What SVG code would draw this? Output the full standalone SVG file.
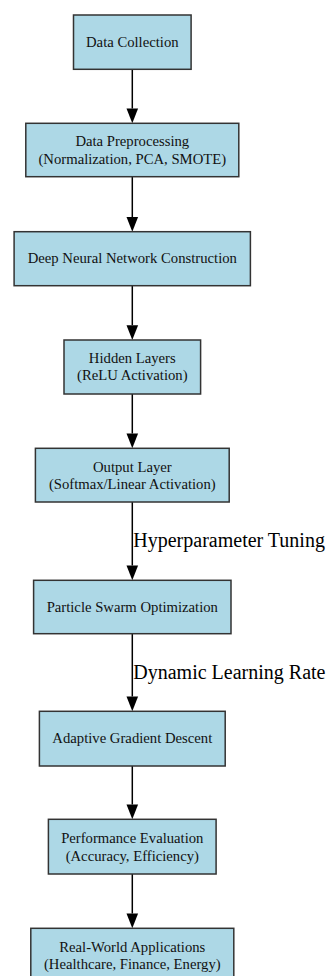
<svg xmlns="http://www.w3.org/2000/svg" width="331" height="976" viewBox="0 0 331 976">
<defs>
<style>
.box{fill:#add8e6;stroke:#333;stroke-width:1.5}
.nt{font-size:14.7px;fill:#111;text-anchor:middle}
.et{font-size:20px;fill:#000}
.edge{stroke:#000;stroke-width:1.5;fill:none}
</style>
</defs>
<rect width="331" height="976" fill="#fff"/>
<g font-family="'Liberation Serif', 'Times New Roman', Times, 'DejaVu Serif', serif">
<g id="edges">
<line class="edge" x1="132.3" y1="69.3" x2="132.3" y2="108.5"/><path d="M126.5,108.5 L138.1,108.5 L132.3,123.3 Z" fill="#000"/>
<line class="edge" x1="132.3" y1="176.7" x2="132.3" y2="217"/><path d="M126.5,217 L138.1,217 L132.3,231.7 Z" fill="#000"/>
<line class="edge" x1="132.3" y1="285.7" x2="132.3" y2="325.2"/><path d="M126.5,325.2 L138.1,325.2 L132.3,340 Z" fill="#000"/>
<line class="edge" x1="132.3" y1="394" x2="132.3" y2="433.5"/><path d="M126.5,433.5 L138.1,433.5 L132.3,448.3 Z" fill="#000"/>
<line class="edge" x1="132.3" y1="502" x2="132.3" y2="565.5"/><path d="M126.5,565.5 L138.1,565.5 L132.3,580.3 Z" fill="#000"/>
<text class="et" x="133.3" y="547.3">Hyperparameter Tuning</text>
<line class="edge" x1="132.3" y1="633.7" x2="132.3" y2="696.5"/><path d="M126.5,696.5 L138.1,696.5 L132.3,711.3 Z" fill="#000"/>
<text class="et" x="133.3" y="679">Dynamic Learning Rate</text>
<line class="edge" x1="132.3" y1="766" x2="132.3" y2="804.5"/><path d="M126.5,804.5 L138.1,804.5 L132.3,819.3 Z" fill="#000"/>
<line class="edge" x1="132.3" y1="874" x2="132.3" y2="913.5"/><path d="M126.5,913.5 L138.1,913.5 L132.3,928.3 Z" fill="#000"/>
</g>
<g id="n1"><rect class="box" x="73.5" y="15" width="117.6" height="54.3"/><text class="nt" x="132.3" y="46.7">Data Collection</text></g>
<g id="n2"><rect class="box" x="25.8" y="123.3" width="213" height="53.4"/><text class="nt" x="132.3" y="145.7">Data Preprocessing</text><text class="nt" x="132.3" y="163.5">(Normalization, PCA, SMOTE)</text></g>
<g id="n3"><rect class="box" x="14.1" y="231.7" width="236.3" height="54"/><text class="nt" x="132.3" y="263.3">Deep Neural Network Construction</text></g>
<g id="n4"><rect class="box" x="64" y="340" width="136.6" height="54"/><text class="nt" x="132.3" y="362.7">Hidden Layers</text><text class="nt" x="132.3" y="380.3">(ReLU Activation)</text></g>
<g id="n5"><rect class="box" x="35.4" y="448.3" width="193.8" height="53.7"/><text class="nt" x="132.3" y="471.5">Output Layer</text><text class="nt" x="132.3" y="488.8">(Softmax/Linear Activation)</text></g>
<g id="n6"><rect class="box" x="33.6" y="580.3" width="197.4" height="53.4"/><text class="nt" x="132.3" y="612">Particle Swarm Optimization</text></g>
<g id="n7"><rect class="box" x="39.4" y="711.3" width="185.8" height="54.7"/><text class="nt" x="132.3" y="743.3">Adaptive Gradient Descent</text></g>
<g id="n8"><rect class="box" x="48.4" y="819.3" width="167.7" height="54.7"/><text class="nt" x="132.3" y="842.7">Performance Evaluation</text><text class="nt" x="132.3" y="860.5">(Accuracy, Efficiency)</text></g>
<g id="n9"><rect class="box" x="30.8" y="928.3" width="203" height="54"/><text class="nt" x="132.3" y="951.7">Real-World Applications</text><text class="nt" x="132.3" y="969.3">(Healthcare, Finance, Energy)</text></g>
</g>
</svg>
